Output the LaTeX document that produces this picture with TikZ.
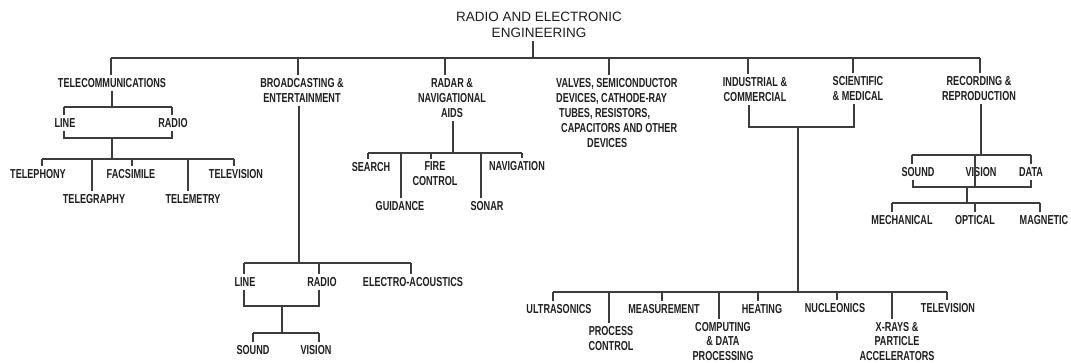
\documentclass[tikz,border=0pt]{standalone}
\usepackage{fontspec}
\newfontfamily\lblfont{Liberation Sans}[FakeStretch=0.70]
\newfontfamily\ttlfont{Liberation Sans}
\definecolor{ink}{HTML}{1E1E1E}
\definecolor{wirecol}{HTML}{3C3C3C}
\tikzset{
  lbl/.style={font=\lblfont\bfseries\fontsize{13}{15}\selectfont, text=ink, inner xsep=1pt, inner ysep=3pt, align=center},
  ttl/.style={font=\ttlfont\fontsize{13.5}{16}\selectfont, text=ink, inner xsep=1pt, inner ysep=3pt, align=center},
  wire/.style={draw=wirecol, line width=1.2pt, line join=miter}
}
\newcommand{\dropto}[2]{\draw[wire] (#1) -- (#1 |- #2.north);}
\newcommand{\risefrom}[2]{\draw[wire] (#1 |- #2.south) -- (#1);}
\begin{document}
\begin{tikzpicture}[x=1pt,y=-1pt]
\useasboundingbox (0,0) rectangle (1071,363);
\fill[white] (0,0) rectangle (1071,363);
\clip (0,0) rectangle (1071,363);

% ---------- nodes ----------
\node[ttl] (root) at (539,25) {RADIO AND ELECTRONIC\\ENGINEERING};

\node[lbl] (tel) at (112,83) {TELECOMMUNICATIONS};
\node[lbl] (brd) at (302,90.5) {BROADCASTING \&\\ENTERTAINMENT};
\node[lbl] (rad) at (452,98) {RADAR \&\\NAVIGATIONAL\\AIDS};
\node[lbl, align=left, anchor=west] (val) at (555,113) {VALVES, SEMICONDUCTOR\\DEVICES, CATHODE-RAY\\\hspace*{3pt}TUBES, RESISTORS,\\\hspace*{5pt}CAPACITORS AND OTHER\\\hspace*{31pt}DEVICES};
\node[lbl] (ind) at (755,89.5) {INDUSTRIAL \&\\COMMERCIAL};
\node[lbl] (sci) at (858,88.5) {SCIENTIFIC\\\& MEDICAL};
\node[lbl] (rec) at (979,88.5) {RECORDING \&\\REPRODUCTION};

% telecommunications
\node[lbl] (tline) at (65,123) {LINE};
\node[lbl] (tradio) at (173,123) {RADIO};
\node[lbl] (tphon) at (38,174) {TELEPHONY};
\node[lbl] (tfax) at (131,174) {FACSIMILE};
\node[lbl] (ttv) at (236,174) {TELEVISION};
\node[lbl] (tgraph) at (94,199) {TELEGRAPHY};
\node[lbl] (tmetry) at (193,199) {TELEMETRY};

% broadcasting
\node[lbl] (bline) at (245,282) {LINE};
\node[lbl] (bradio) at (322,282) {RADIO};
\node[lbl] (belec) at (413,282) {ELECTRO-ACOUSTICS};
\node[lbl] (bsound) at (253,350) {SOUND};
\node[lbl] (bvision) at (316,350) {VISION};

% radar
\node[lbl] (search) at (371,167) {SEARCH};
\node[lbl] (fire) at (435,174) {FIRE\\CONTROL};
\node[lbl] (navig) at (517,166) {NAVIGATION};
\node[lbl] (guid) at (400,206) {GUIDANCE};
\node[lbl] (sonar) at (487,206) {SONAR};

% industrial & scientific
\node[lbl] (ultra) at (559,309) {ULTRASONICS};
\node[lbl] (proc) at (611,338.5) {PROCESS\\CONTROL};
\node[lbl] (meas) at (664,309) {MEASUREMENT};
\node[lbl, font=\lblfont\bfseries\fontsize{13}{14.5}\selectfont] (comp) at (723,341.5) {COMPUTING\\\& DATA\\PROCESSING};
\node[lbl] (heat) at (762,309) {HEATING};
\node[lbl] (nucl) at (835,308) {NUCLEONICS};
\node[lbl, font=\lblfont\bfseries\fontsize{13}{14.5}\selectfont] (xray) at (897,341.5) {X-RAYS \&\\PARTICLE\\ACCELERATORS};
\node[lbl] (tvb) at (948,308) {TELEVISION};

% recording
\node[lbl] (ssound) at (918,172) {SOUND};
\node[lbl] (svision) at (981,172) {VISION};
\node[lbl] (sdata) at (1031,172) {DATA};
\node[lbl] (mech) at (902,220) {MECHANICAL};
\node[lbl] (opt) at (975,220) {OPTICAL};
\node[lbl] (mag) at (1044,220) {MAGNETIC};

% ---------- main bus ----------
\coordinate (rootJ) at (533,58);
\coordinate (c1) at (111,58);
\coordinate (c2) at (298,58);
\coordinate (c3) at (445,58);
\coordinate (c4) at (609,58);
\coordinate (c5) at (748,58);
\coordinate (c6) at (853,58);
\coordinate (c7) at (980,58);
\risefrom{rootJ}{root}
\draw[wire] (c1) -- (c7);
\dropto{c1}{tel}
\dropto{c2}{brd}
\dropto{c3}{rad}
\dropto{c4}{val}
\dropto{c5}{ind}
\dropto{c6}{sci}
\dropto{c7}{rec}

% ---------- telecommunications ----------
\coordinate (t0) at (112,107);
\coordinate (tA) at (64,107);
\coordinate (tB) at (172,107);
\coordinate (tC) at (64,138);
\coordinate (tD) at (172,138);
\coordinate (t1) at (112,138);
\coordinate (t2) at (112,159);
\coordinate (tE) at (42,159);
\coordinate (tF) at (234,159);
\coordinate (tG) at (92,159);
\coordinate (tH) at (132,159);
\coordinate (tI) at (188,159);
\risefrom{t0}{tel}
\draw[wire] (tA) -- (tB);
\dropto{tA}{tline}
\dropto{tB}{tradio}
\draw[wire] (tC |- tline.south) -- (tC) -- (tD) -- (tD |- tradio.south);
\draw[wire] (t1) -- (t2);
\draw[wire] (tE) -- (tF);
\dropto{tE}{tphon}
\dropto{tG}{tgraph}
\dropto{tH}{tfax}
\dropto{tI}{tmetry}
\dropto{tF}{ttv}

% ---------- broadcasting ----------
\coordinate (b0) at (299,263);
\coordinate (bA) at (244,263);
\coordinate (bR) at (319,263);
\coordinate (bB) at (411,263);
\coordinate (bC) at (244,306);
\coordinate (bD) at (319,306);
\coordinate (b1) at (282,306);
\coordinate (b2) at (282,333);
\coordinate (bE) at (253,333);
\coordinate (bF) at (319,333);
\risefrom{b0}{brd}
\draw[wire] (bA) -- (bB);
\dropto{bA}{bline}
\dropto{bR}{bradio}
\dropto{bB}{belec}
\draw[wire] (bC |- bline.south) -- (bC) -- (bD) -- (bD |- bradio.south);
\draw[wire] (b1) -- (b2);
\draw[wire] (bE) -- (bF);
\dropto{bE}{bsound}
\dropto{bF}{bvision}

% ---------- radar ----------
\coordinate (r0) at (453,153);
\coordinate (rA) at (368,153);
\coordinate (rG) at (401,153);
\coordinate (rF) at (431,153);
\coordinate (rS) at (481,153);
\coordinate (rB) at (522,153);
\risefrom{r0}{rad}
\draw[wire] (rA) -- (rB);
\dropto{rA}{search}
\dropto{rG}{guid}
\dropto{rF}{fire}
\dropto{rS}{sonar}
\dropto{rB}{navig}

% ---------- industrial & scientific ----------
\coordinate (iA) at (749,127);
\coordinate (iB) at (854,127);
\coordinate (i0) at (798,127);
\coordinate (i1) at (798,292);
\coordinate (u1) at (553,292);
\coordinate (u2) at (609,292);
\coordinate (u3) at (662,292);
\coordinate (u4) at (719,292);
\coordinate (u5) at (758,292);
\coordinate (u6) at (837,292);
\coordinate (u7) at (892,292);
\coordinate (u8) at (947,292);
\draw[wire] (iA |- ind.south) -- (iA) -- (iB) -- (iB |- sci.south);
\draw[wire] (i0) -- (i1);
\draw[wire] (u1) -- (u8);
\dropto{u1}{ultra}
\dropto{u2}{proc}
\dropto{u3}{meas}
\dropto{u4}{comp}
\dropto{u5}{heat}
\dropto{u6}{nucl}
\dropto{u7}{xray}
\dropto{u8}{tvb}

% ---------- recording ----------
\coordinate (s0) at (981,155);
\coordinate (sA) at (912,155);
\coordinate (sB) at (1031,155);
\coordinate (sV) at (975,155);
\coordinate (sW) at (975,187);
\coordinate (sC) at (913,187);
\coordinate (sD) at (1031,187);
\coordinate (s1) at (967,187);
\coordinate (s2) at (967,203);
\coordinate (mA) at (892,203);
\coordinate (mO) at (975,203);
\coordinate (mB) at (1040,203);
\risefrom{s0}{rec}
\draw[wire] (sA) -- (sB);
\dropto{sA}{ssound}
\dropto{sB}{sdata}
\draw[wire] (sV) -- (sW);
\draw[wire] (sC |- ssound.south) -- (sC) -- (sD) -- (sD |- sdata.south);
\draw[wire] (s1) -- (s2);
\draw[wire] (mA) -- (mB);
\dropto{mA}{mech}
\dropto{mO}{opt}
\dropto{mB}{mag}
\end{tikzpicture}
\end{document}
